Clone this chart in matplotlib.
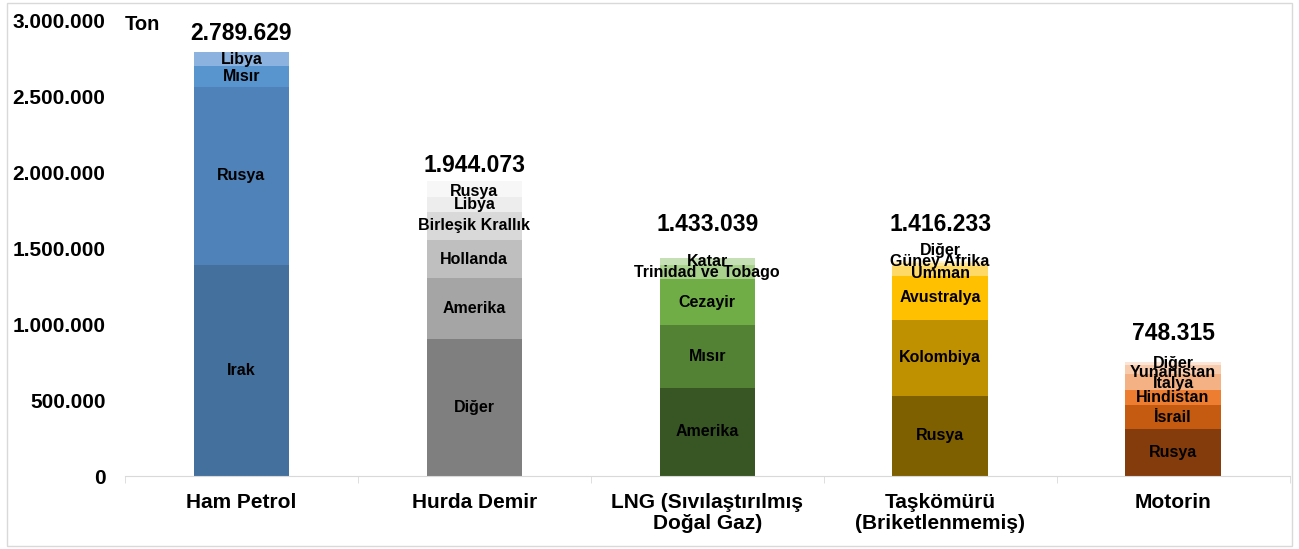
import numpy as np
import matplotlib.pyplot as plt
import matplotlib.ticker as mticker
from matplotlib.patches import Rectangle

plt.rcParams['font.family'] = ['Liberation Sans', 'DejaVu Sans']

# --- Data (tons) ---
categories = ['Ham Petrol', 'Hurda Demir', 'LNG (Sıvılaştırılmış\nDoğal Gaz)',
              'Taşkömürü\n(Briketlenmemiş)', 'Motorin']
totals = [2789629, 1944073, 1433039, 1416233, 748315]

ham_petrol_countries = ['Irak', 'Rusya', 'Mısır', 'Libya']
ham_petrol_values = [1388000, 1173000, 136000, 92629]

hurda_countries = ['Diğer', 'Amerika', 'Hollanda', 'Birleşik Krallık', 'Libya', 'Rusya']
hurda_values = [899000, 401000, 252000, 186000, 99000, 107073]

lng_countries = ['Amerika', 'Mısır', 'Cezayir', 'Trinidad ve Tobago', 'Katar']
lng_values = [581000, 412000, 301000, 95000, 44039]

taskomuru_countries = ['Rusya', 'Kolombiya', 'Avustralya', 'Umman', 'Güney Afrika', 'Diğer']
taskomuru_values = [528000, 498000, 292000, 66000, 20000, 12233]

motorin_countries = ['Rusya', 'İsrail', 'Hindistan', 'İtalya', 'Yunanistan', 'Diğer']
motorin_values = [307000, 160000, 99000, 103000, 61000, 18315]

# colours per stack, bottom to top
ham_colors = ['#44709E', '#4E82B8', '#5894CE', '#8CB3DF']
hurda_colors = ['#7F7F7F', '#A5A5A5', '#BFBFBF', '#D9D9D9', '#EDEDED', '#F7F7F7']
lng_colors = ['#375623', '#548235', '#70AD47', '#A9D18E', '#C5E0B4']
tas_colors = ['#7F6000', '#BF9000', '#FFC000', '#FFD966', '#FFE699', '#FFF2CC']
mot_colors = ['#843C0C', '#C55A11', '#ED7D31', '#F4B183', '#F8CBAD', '#FBE5D6']

stacks = [
    (ham_petrol_countries, ham_petrol_values, ham_colors),
    (hurda_countries, hurda_values, hurda_colors),
    (lng_countries, lng_values, lng_colors),
    (taskomuru_countries, taskomuru_values, tas_colors),
    (motorin_countries, motorin_values, mot_colors),
]

# small label nudges (points) where thin segments crowd together
nudge = {(3, 'Diğer'): 8, (3, 'Güney Afrika'): 2, (3, 'Umman'): -2,
         (4, 'Yunanistan'): -2, (1, 'Rusya'): -2}
# distance of the total label centre above the bar top (points)
total_gap = [13, 11, 24, 26, 21]

def dotted(v):
    return f"{int(v):,}".replace(',', '.')

fig = plt.figure(figsize=(12.99, 5.49), dpi=100)
ax = fig.add_axes([125 / 1299, 73 / 549, 1164.5 / 1299, 456 / 549])

x = np.arange(len(categories))
width = 0.41

for i, (names, vals, cols) in enumerate(stacks):
    bottom = 0
    for name, v, c in zip(names, vals, cols):
        ax.bar(x[i], v, width, bottom=bottom, color=c, edgecolor='none')
        ax.annotate(name, (x[i], bottom + v / 2), xytext=(0, nudge.get((i, name), 0)),
                    textcoords='offset points', ha='center', va='center',
                    fontsize=11.5, fontweight='bold', color='black')
        bottom += v
    ax.annotate(dotted(totals[i]), (x[i], totals[i]), xytext=(0, total_gap[i]),
                textcoords='offset points', ha='center', va='center',
                fontsize=16.5, fontweight='bold')

ax.set_xlim(-0.5, len(categories) - 0.5)
ax.set_ylim(0, 3000000)
ax.yaxis.set_major_locator(mticker.MultipleLocator(500000))
ax.yaxis.set_major_formatter(mticker.FuncFormatter(lambda v, _: dotted(v)))
ax.tick_params(axis='y', length=0, pad=14, labelsize=15)
for lab in ax.get_yticklabels():
    lab.set_fontweight('bold')

ax.set_xticks(x)
ax.set_xticklabels(categories, fontsize=15, fontweight='bold', linespacing=1.15)
ax.set_xticks(np.arange(-0.5, len(categories)), minor=True)
ax.tick_params(axis='x', which='major', length=0, pad=12)
ax.tick_params(axis='x', which='minor', length=5, color='#D9D9D9')

for s in ['left', 'top', 'right']:
    ax.spines[s].set_visible(False)
ax.spines['bottom'].set_color('#D9D9D9')

fig.text(125 / 1299, 1 - 25 / 549, 'Ton', ha='left', va='center',
         fontsize=14.5, fontweight='bold')

# outer frame
fig.patches.append(Rectangle((7 / 1299, 3 / 549), 1285 / 1299, 543 / 549,
                             transform=fig.transFigure, fill=False,
                             edgecolor='#D9D9D9', linewidth=1))

fig.savefig('out.png', dpi=100)
